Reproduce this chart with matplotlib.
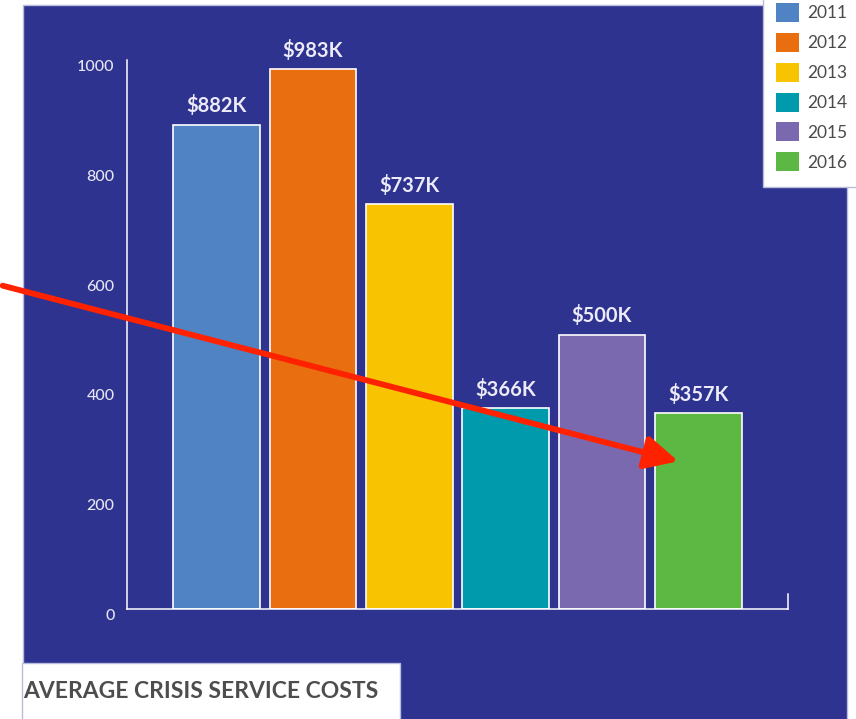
import matplotlib
matplotlib.use("Agg")
import matplotlib.pyplot as plt
from matplotlib.patches import Rectangle, FancyArrowPatch
from matplotlib.transforms import ScaledTranslation

plt.rcParams['font.family'] = ['Lato', 'DejaVu Sans']

years = ['2011', '2012', '2013', '2014', '2015', '2016']
costs = [882, 983, 737, 366, 500, 357]
labels = ['$882K', '$983K', '$737K', '$366K', '$500K', '$357K']
colors = ['#5083c4', '#e96e10', '#f8c300', '#009aad', '#7b69af', '#5db843']
yticks = [0, 200, 400, 600, 800, 1000]
title = 'AVERAGE CRISIS SERVICE COSTS'

navy = '#2e3390'
W, H = 856, 719

fig = plt.figure(figsize=(W / 100, H / 100), dpi=100, facecolor='white')

def px(x0, y0, x1, y1):
    # pixel box (top-left origin) -> figure fraction rect
    return (x0 / W, 1 - y1 / H), (x1 - x0) / W, (y1 - y0) / H

# navy panel
xy, w, h = px(23, 5, 847, 725)
fig.patches.append(Rectangle(xy, w, h, transform=fig.transFigure,
                             facecolor=navy, edgecolor='#b8bbdc', lw=1, zorder=0))
# white title box
xy, w, h = px(22, 663, 400, 725)
fig.patches.append(Rectangle(xy, w, h, transform=fig.transFigure,
                             facecolor='white', edgecolor='#b8bbdc', lw=1, zorder=1))
# white legend box
xy, w, h = px(763, -5, 860, 187)
fig.patches.append(Rectangle(xy, w, h, transform=fig.transFigure,
                             facecolor='white', edgecolor='#b8bbdc', lw=1, zorder=1))

ax = fig.add_axes([127 / W, 1 - 609 / H, (788 - 127) / W, (609 - 60) / H])
ax.set_facecolor('none')
ax.set_zorder(2)

x = list(range(len(years)))
bars = ax.bar(x, costs, width=0.9, color=colors, edgecolor='white', linewidth=1.2, zorder=2)
ax.bar_label(bars, labels=labels, padding=6, color='#ecebf7', fontsize=14.5,
             fontweight='bold')

ax.set_xlim(-0.93, 5.93)
ax.set_ylim(0, 1000)
ax.set_yticks(yticks)
ax.set_xticks([])
ax.tick_params(axis='y', length=0, pad=9, labelcolor='#e6e6f2', labelsize=11.5)
for lab in ax.get_yticklabels():
    lab.set_transform(lab.get_transform() + ScaledTranslation(0, -4 / 72, fig.dpi_scale_trans))
    lab.set_fontweight('medium')

for side in ['top', 'right']:
    ax.spines[side].set_visible(False)
for side in ['left', 'bottom']:
    ax.spines[side].set_color('white')
    ax.spines[side].set_linewidth(1.1)
ax.plot([1, 1], [0, 0.027], transform=ax.transAxes, color='white', lw=1.1, clip_on=False)

# legend
handles = [Rectangle((0, 0), 1, 1, facecolor=c, edgecolor='none') for c in colors]
leg = fig.legend(handles, years, loc='upper left', bbox_to_anchor=(776 / W, 1 - 3 / H),
                 frameon=False, fontsize=12.5, handlelength=1.3, handleheight=1.3,
                 handletextpad=0.5, labelspacing=0.63, borderaxespad=0, borderpad=0)
for t in leg.get_texts():
    t.set_color('#4a4a4a')

fig.text(23 / W, 1 - 692 / H, title, fontsize=16.5, fontweight='bold',
         color='#4d4d4d', va='center', ha='left')

arrow = FancyArrowPatch((0, 1 - 285 / H), (681 / W, 1 - 462 / H),
                        transform=fig.transFigure,
                        arrowstyle='-|>,head_length=1.0,head_width=0.5',
                        mutation_scale=20, color='#ff2200', lw=4.2, zorder=10)
fig.patches.append(arrow)

fig.savefig('out.png', dpi=100, facecolor='white')
